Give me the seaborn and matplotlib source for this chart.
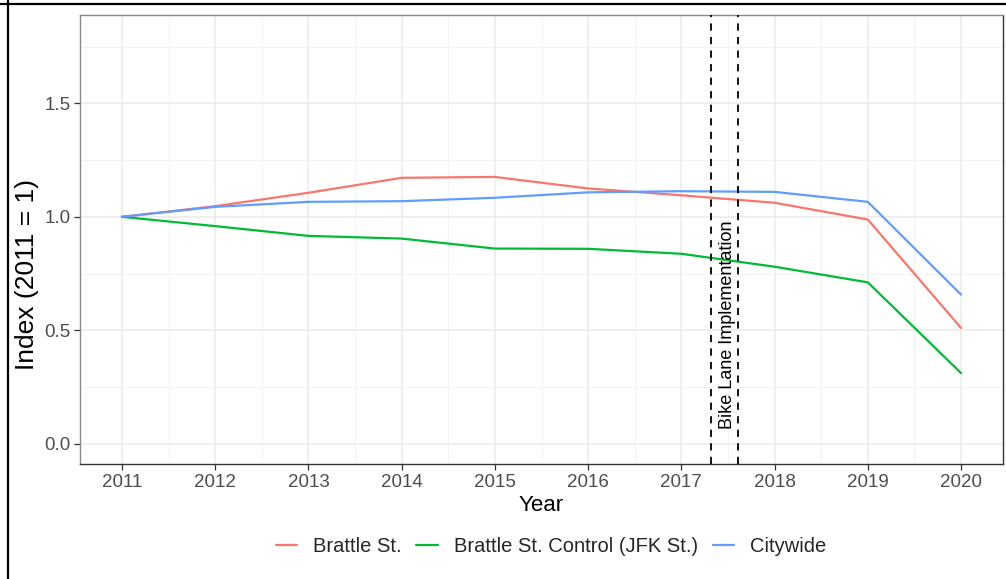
import numpy as np
import pandas as pd
import seaborn as sns
import matplotlib.pyplot as plt
from matplotlib.lines import Line2D
from matplotlib.ticker import MultipleLocator

# values (index, 2011 = 1)
years = list(range(2011, 2021))
brattle = [1.0, 1.047, 1.106, 1.172, 1.176, 1.125, 1.095, 1.062, 0.988, 0.510]
control = [1.0, 0.959, 0.916, 0.904, 0.860, 0.859, 0.837, 0.780, 0.711, 0.311]
citywide = [1.0, 1.044, 1.066, 1.069, 1.084, 1.108, 1.113, 1.110, 1.066, 0.657]
series_names = ["Brattle St.", "Brattle St. Control (JFK St.)", "Citywide"]
series_colors = ["#F8766D", "#00BA38", "#619CFF"]
implementation = [2017.32, 2017.61]
y_ticks = [0.0, 0.5, 1.0, 1.5]

df = pd.DataFrame({
    "Year": years * 3,
    "Index": brattle + control + citywide,
    "Series": np.repeat(series_names, len(years)),
})

sns.set_theme(style="whitegrid")
plt.rcParams["font.family"] = ["Liberation Sans", "DejaVu Sans"]

fig = plt.figure(figsize=(10.06, 5.79), dpi=100)
ax = fig.add_axes([80 / 1006, 1 - 464 / 579, 923 / 1006, 449 / 579])

sns.lineplot(data=df, x="Year", y="Index", hue="Series",
             palette=dict(zip(series_names, series_colors)),
             linewidth=1.6, ax=ax)

for xv in implementation:
    ax.axvline(xv, color="black", linestyle=(0, (4, 3.5)), linewidth=1.3, zorder=3)
ax.text(2017.50, 0.524, "Bike Lane Implementation",
        rotation=90, ha="center", va="center", fontsize=13, color="black")

ax.set_xlim(2010.55, 2020.45)
ax.set_ylim(-0.09, 1.89)
ax.set_xticks(years)
ax.set_xticklabels([str(y) for y in years])
ax.set_yticks(y_ticks)
ax.set_yticklabels([f"{v:.1f}" for v in y_ticks])
ax.xaxis.set_minor_locator(MultipleLocator(0.5))
ax.yaxis.set_minor_locator(MultipleLocator(0.25))
ax.grid(which="major", color="#EBEBEB", linewidth=1.1)
ax.grid(which="minor", color="#F3F3F3", linewidth=0.7)
ax.tick_params(axis="both", which="major", bottom=True, left=True,
               length=4, width=0.9, color="#333333",
               labelsize=13.5, labelcolor="#4D4D4D", pad=3)
ax.tick_params(axis="both", which="minor", length=0)

for side, sp in ax.spines.items():
    sp.set_visible(True)
    sp.set_linewidth(1.0)
    sp.set_color("#333333" if side in ("bottom", "right") else "#888888")

ax.set_xlabel("Year", fontsize=16, color="black", labelpad=3)
ax.set_ylabel("Index (2011 = 1)", fontsize=19, color="black")
ax.yaxis.set_label_coords((39 - 80) / 923, (464 - 275) / 449)

sns.move_legend(ax, "center", bbox_to_anchor=((551 - 80) / 923, (464 - 547) / 449),
                ncol=3, title=None, frameon=False, fontsize=14.5,
                handlelength=1.05, handletextpad=0.8, columnspacing=0.75)

# outer frame of the screenshot (top and left edges)
fig.add_artist(Line2D([0, 1], [1 - 4.3 / 579] * 2, transform=fig.transFigure,
                      color="black", linewidth=1.6))
fig.add_artist(Line2D([7.8 / 1006] * 2, [0, 1], transform=fig.transFigure,
                      color="black", linewidth=1.6))

fig.savefig("out.png", dpi=100)
